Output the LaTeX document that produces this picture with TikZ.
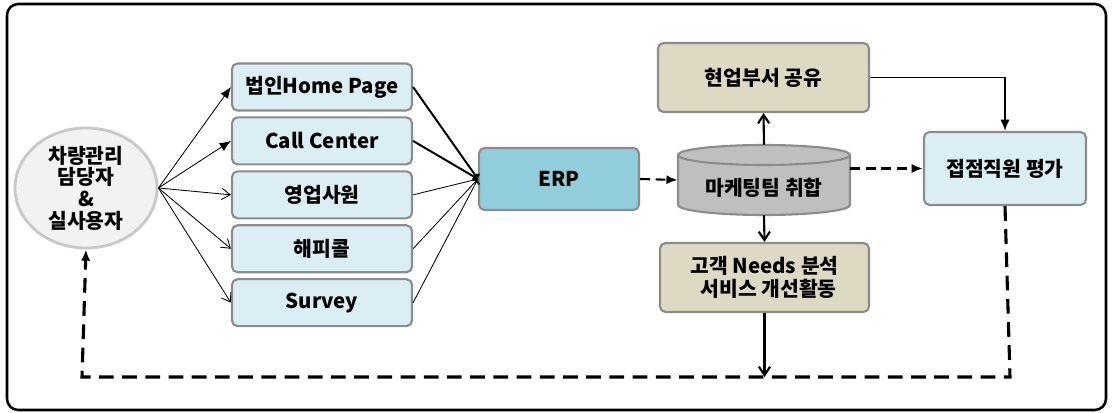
\documentclass[tikz,border=0pt]{standalone}
\usepackage{fontspec}
\setmainfont{Noto Sans CJK KR}
\usepackage[svgnames]{xcolor}
\usetikzlibrary{arrows.meta,positioning,shapes.geometric}

\definecolor{boiteBleu}{RGB}{219,238,244}
\definecolor{boiteERP}{RGB}{146,205,220}
\definecolor{boiteBeige}{RGB}{221,217,195}
\definecolor{boiteGris}{RGB}{191,191,191}
\definecolor{bordGris}{RGB}{140,140,140}
\definecolor{bordClair}{RGB}{200,200,200}
\definecolor{fondActeur}{RGB}{242,242,242}

\begin{document}
\begin{tikzpicture}[x=0.025cm,y=0.025cm,
	texte/.style={font=\bfseries\fontsize{14.5}{16}\selectfont,align=center,inner sep=0pt},
	boite/.style={texte,draw=bordGris,line width=1.5pt,rounded corners=4pt,fill=boiteBleu},
	canal/.style={boite,minimum width=4.5cm,minimum height=1.175cm},
	fleche/.style={-{Latex[length=8pt,width=6.5pt]}},
	pointe/.style={-{Straight Barb[length=6pt,width=8pt]}},
	tirets/.style={dash pattern=on 7pt off 4pt,line width=1.5pt},
	retour/.style={dash pattern=on 10.5pt off 6pt,line width=2.2pt}]
	%
	% Cadre
	\useasboundingbox (0,0) rectangle (1113,413);
	\draw[line width=1.8pt,rounded corners=8pt] (7,3) rectangle (1106,409);
	%
	% Acteur
	\node[texte,ellipse,draw=bordClair,line width=2pt,fill=fondActeur,minimum width=3.55cm,minimum height=3cm,font=\bfseries\fontsize{14.5}{15.4}\selectfont] (acteur) at (86,225) {차량관리\\담당자\\\&\\실사용자};
	%
	% Canaux
	\node[canal] (homepage) at (322,326) {법인Home Page};
	\node[canal,below=0.12cm of homepage] (callcenter) {Call Center};
	\node[canal,below=0.12cm of callcenter] (sales) {영업사원};
	\node[canal,below=0.12cm of sales] (happycall) {해피콜};
	\node[canal,below=0.12cm of happycall] (survey) {Survey};
	%
	% ERP
	\node[boite,fill=boiteERP,minimum width=4cm,minimum height=1.55cm] (erp) at (559,234) {ERP};
	%
	% Base marketing (cylindre)
	\fill[boiteGris] (678,258) -- (678,208) arc[start angle=180,end angle=360,x radius=2.15cm,y radius=0.25cm] -- (850,258) -- cycle;
	\draw[bordGris,line width=1.5pt] (678,258) -- (678,208) arc[start angle=180,end angle=360,x radius=2.15cm,y radius=0.25cm] -- (850,258);
	\draw[bordGris,line width=1.5pt,fill=boiteGris] (764,258) ellipse[x radius=2.15cm,y radius=0.25cm];
	\node[minimum width=4.3cm,minimum height=1.75cm,inner sep=0pt] (mkt) at (764,233) {};
	\node[texte] (mktTexte) at (764,225) {마케팅팀 취합};
	%
	% Partage / analyse / evaluation
	\node[boite,fill=boiteBeige,minimum width=5.275cm,minimum height=1.725cm] (partage) at (763.5,335.5) {현업부서 공유};
	\node[boite,fill=boiteBeige,minimum width=5.225cm,minimum height=1.725cm,font=\bfseries\fontsize{14.5}{16.5}\selectfont] (analyse) at (764.5,135.5) {고객 Needs 분석\\\hspace{0.4em}서비스 개선활동};
	\node[boite,minimum width=4.05cm,minimum height=1.825cm] (evaluation) at (1005,244.5) {접점직원 평가};
	%
	% Liaisons
	\draw[line width=0.6pt,fleche] (acteur.east) -- (homepage.west);
	\draw[line width=0.6pt,fleche] (acteur.east) -- (callcenter.west);
	\foreach \canal in {sales,happycall,survey}
		\draw[line width=0.6pt,pointe] (acteur.east) -- (\canal.west);
	\draw[line width=1.4pt,-{To[length=3pt]}] (homepage.east) -- (erp.west);
	\draw[line width=1.4pt,-{To[length=3pt]}] (callcenter.east) -- (erp.west);
	\foreach \canal in {sales,happycall,survey}
		\draw[line width=0.6pt,-{To[length=3pt]}] (\canal.east) -- (erp.west);
	\draw[tirets,fleche] (erp.east) -- (mkt.west);
	\draw[tirets,fleche] (mkt.east |- evaluation.west) -- (evaluation.west);
	\draw[line width=1.5pt,pointe] (mkt.north) -- (partage.south);
	\draw[line width=1.5pt,pointe] (mkt.south) -- (analyse.north);
	\draw[line width=1pt,fleche] (partage.east) -| (evaluation.north);
	%
	% Retour
	\coordinate (coinD) at (1010,36);
	\coordinate (coinG) at (82,36);
	\draw[line width=1.5pt,pointe] (analyse.south) -- (analyse.south |- coinD);
	\draw[retour,fleche] (evaluation.south) -- (coinD) -- (coinG) -- (acteur.south);
\end{tikzpicture}
\end{document}
